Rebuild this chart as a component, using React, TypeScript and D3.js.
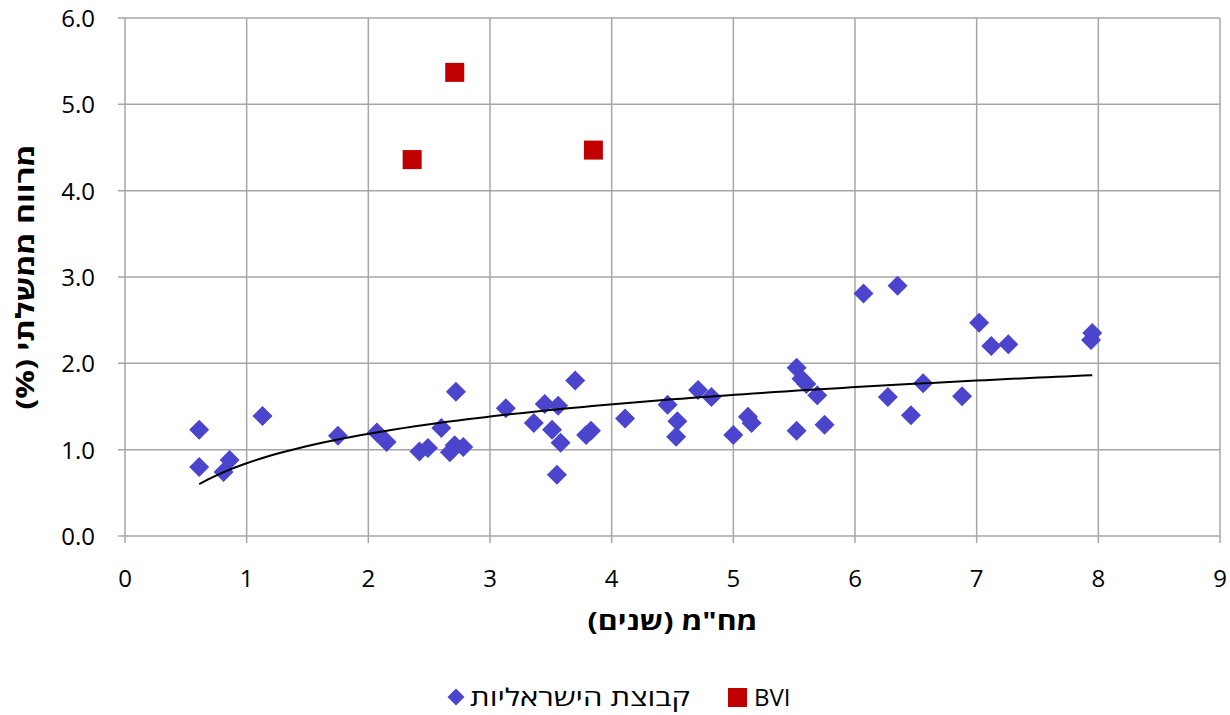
import React from "react";
import * as d3 from "d3";

const israeliX = [0.61,0.61,0.81,0.86,1.13,1.75,2.07,2.15,2.42,2.49,2.60,2.67,2.71,2.72,2.78,3.13,3.36,3.45,3.51,3.56,3.55,3.58,3.70,3.79,3.83,4.11,4.46,4.53,4.54,4.71,4.82,5.00,5.12,5.15,5.52,5.56,5.60,5.52,5.69,5.75,6.07,6.35,6.27,6.46,6.56,6.88,7.02,7.12,7.26,7.94,7.95];
const israeliY = [1.23,0.80,0.74,0.88,1.39,1.16,1.20,1.09,0.98,1.02,1.25,0.97,1.05,1.67,1.03,1.48,1.31,1.53,1.23,1.51,0.71,1.08,1.80,1.17,1.22,1.36,1.52,1.15,1.33,1.69,1.61,1.17,1.38,1.31,1.95,1.82,1.76,1.22,1.63,1.29,2.81,2.90,1.61,1.40,1.77,1.62,2.47,2.20,2.22,2.27,2.35];
const bviX = [2.36, 2.71, 3.85];
const bviY = [4.36, 5.37, 4.47];
const xTicks = [0,1,2,3,4,5,6,7,8,9];
const yTicks = [0,1,2,3,4,5,6];
const xTitle = "מח\"מ (שנים)";
const yTitle = "מרווח ממשלתי (%)";
const legendIsraeli = "קבוצת הישראליות";
const legendBvi = "BVI";

export default function App() {
  const W = 1230, H = 715;
  const left = 125, right = 1220, top = 18, bottom = 536;
  const x = d3.scaleLinear().domain([0, 9]).range([left, right]);
  const y = d3.scaleLinear().domain([0, 6]).range([bottom, top]);

  // logarithmic trendline (least squares on ln x)
  const lx = israeliX.map(Math.log);
  const mx = d3.mean(lx)!;
  const my = d3.mean(israeliY)!;
  let sxy = 0, sxx = 0;
  lx.forEach((v, i) => { sxy += (v - mx) * (israeliY[i] - my); sxx += (v - mx) * (v - mx); });
  const b = sxy / sxx;
  const a = my - b * mx;
  const xmin = d3.min(israeliX)!, xmax = d3.max(israeliX)!;
  const trendPts: [number, number][] = d3.range(0, 101).map(i => {
    const xv = xmin + (xmax - xmin) * i / 100;
    return [x(xv), y(a + b * Math.log(xv))];
  });
  const line = d3.line();

  const font = "'Open Sans', 'DejaVu Sans', sans-serif";
  const grid = "#a6a6a6";
  const diamond = d3.symbol().type(d3.symbolSquare).size(200)();
  const blue = "#4b44cc";
  const red = "#c00000";

  return (
    <svg width={W} height={H} style={{ position: "absolute", left: 0, top: 0, fontFamily: font }}>
      <rect width={W} height={H} fill="#fff" />
      {xTicks.map(t => (
        <line key={"gx" + t} x1={x(t)} x2={x(t)} y1={top} y2={bottom + 7} stroke={grid} strokeWidth={1.5} />
      ))}
      {yTicks.map(t => (
        <line key={"gy" + t} x1={left - 7} x2={right} y1={y(t)} y2={y(t)} stroke={grid} strokeWidth={1.5} />
      ))}
      {xTicks.map(t => (
        <text key={"tx" + t} x={x(t)} y={587} textAnchor="middle" fontSize={24} fill="#000">{t}</text>
      ))}
      {yTicks.map(t => (
        <text key={"ty" + t} x={95} y={y(t) + 9} textAnchor="end" fontSize={24} fill="#000">{t.toFixed(1)}</text>
      ))}
      <text x={(left + right) / 2} y={630} textAnchor="middle" direction="rtl" fontSize={25} fontWeight="bold" textLength={170} lengthAdjust="spacingAndGlyphs">{xTitle}</text>
      <text transform={`translate(34, ${(top + bottom) / 2}) rotate(-90)`} textAnchor="middle" direction="rtl" fontSize={25} fontWeight="bold" textLength={265} lengthAdjust="spacingAndGlyphs">{yTitle}</text>
      {israeliX.map((xv, i) => (
        <path key={"i" + i} d={diamond!} transform={`translate(${x(xv)},${y(israeliY[i])}) rotate(45)`} fill={blue} />
      ))}
      {bviX.map((xv, i) => (
        <rect key={"b" + i} x={x(xv) - 9.5} y={y(bviY[i]) - 9.5} width={19} height={19} fill={red} />
      ))}
      <path d={line(trendPts)!} fill="none" stroke="#000" strokeWidth={2} />
      {/* legend */}
      <path d={diamond!} transform={`translate(456,697) rotate(45) scale(0.85)`} fill={blue} />
      <text x={580} y={706} textAnchor="middle" direction="rtl" fontSize={24} textLength={220} lengthAdjust="spacingAndGlyphs">{legendIsraeli}</text>
      <rect x={728} y={688} width={19} height={19} fill={red} />
      <text x={754} y={706} fontSize={24}>{legendBvi}</text>
    </svg>
  );
}
